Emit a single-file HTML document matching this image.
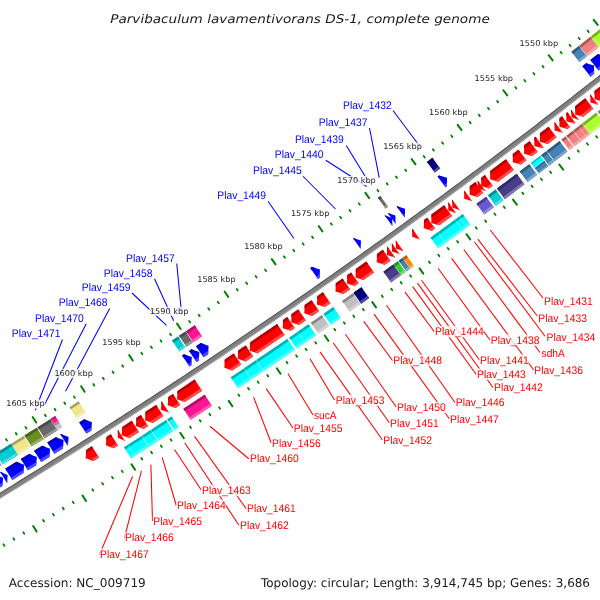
<!DOCTYPE html>
<html><head><meta charset="utf-8"><title>Parvibaculum lavamentivorans DS-1</title>
<style>html,body{margin:0;padding:0;background:#fff}svg{display:block;text-rendering:geometricPrecision}</style></head>
<body>
<svg width="600" height="600" viewBox="0 0 600 600">
<rect width="600" height="600" fill="#fff"/>
<g stroke="#008000" stroke-linecap="round"><line x1="714.12" y1="42.1" x2="715.24" y2="43.51" stroke-width="1.8"/><line x1="660.19" y1="-25.53" x2="659.07" y2="-26.94" stroke-width="1.8"/><line x1="705.12" y1="49.44" x2="706.24" y2="50.85" stroke-width="1.8"/><line x1="651.3" y1="-18.28" x2="650.18" y2="-19.69" stroke-width="1.8"/><line x1="696.11" y1="56.76" x2="700.11" y2="61.81" stroke-width="2.0"/><line x1="642.4" y1="-11.05" x2="638.4" y2="-16.11" stroke-width="2.0"/><line x1="687.08" y1="64.06" x2="688.2" y2="65.47" stroke-width="1.8"/><line x1="633.48" y1="-3.84" x2="632.37" y2="-5.25" stroke-width="1.8"/><line x1="678.04" y1="71.34" x2="679.16" y2="72.75" stroke-width="1.8"/><line x1="624.55" y1="3.36" x2="623.44" y2="1.95" stroke-width="1.8"/><line x1="668.99" y1="78.61" x2="670.1" y2="80.02" stroke-width="1.8"/><line x1="615.61" y1="10.54" x2="614.5" y2="9.13" stroke-width="1.8"/><line x1="659.92" y1="85.86" x2="661.03" y2="87.28" stroke-width="1.8"/><line x1="606.65" y1="17.71" x2="605.54" y2="16.29" stroke-width="1.8"/><line x1="650.84" y1="93.09" x2="654.81" y2="98.18" stroke-width="2.0"/><line x1="597.68" y1="24.86" x2="593.72" y2="19.77" stroke-width="2.0"/><line x1="641.75" y1="100.31" x2="642.85" y2="101.73" stroke-width="1.8"/><line x1="588.7" y1="31.99" x2="587.59" y2="30.57" stroke-width="1.8"/><line x1="632.64" y1="107.51" x2="633.74" y2="108.93" stroke-width="1.8"/><line x1="579.7" y1="39.1" x2="578.6" y2="37.68" stroke-width="1.8"/><line x1="623.52" y1="114.69" x2="624.62" y2="116.12" stroke-width="1.8"/><line x1="570.69" y1="46.2" x2="569.59" y2="44.78" stroke-width="1.8"/><line x1="614.39" y1="121.86" x2="615.48" y2="123.28" stroke-width="1.8"/><line x1="561.67" y1="53.28" x2="560.57" y2="51.86" stroke-width="1.8"/><line x1="605.24" y1="129.01" x2="609.16" y2="134.13" stroke-width="2.0"/><line x1="552.63" y1="60.35" x2="548.7" y2="55.23" stroke-width="2.0"/><line x1="596.08" y1="136.14" x2="597.17" y2="137.57" stroke-width="1.8"/><line x1="543.58" y1="67.4" x2="542.48" y2="65.97" stroke-width="1.8"/><line x1="586.9" y1="143.26" x2="588" y2="144.69" stroke-width="1.8"/><line x1="534.51" y1="74.43" x2="533.42" y2="72.99" stroke-width="1.8"/><line x1="577.72" y1="150.35" x2="578.81" y2="151.79" stroke-width="1.8"/><line x1="525.44" y1="81.44" x2="524.35" y2="80.01" stroke-width="1.8"/><line x1="568.52" y1="157.44" x2="569.6" y2="158.87" stroke-width="1.8"/><line x1="516.35" y1="88.44" x2="515.26" y2="87" stroke-width="1.8"/><line x1="559.3" y1="164.5" x2="563.18" y2="169.65" stroke-width="2.0"/><line x1="507.24" y1="95.42" x2="503.36" y2="90.27" stroke-width="2.0"/><line x1="550.08" y1="171.55" x2="551.16" y2="172.99" stroke-width="1.8"/><line x1="498.13" y1="102.39" x2="497.05" y2="100.95" stroke-width="1.8"/><line x1="540.83" y1="178.58" x2="541.91" y2="180.02" stroke-width="1.8"/><line x1="489" y1="109.33" x2="487.92" y2="107.89" stroke-width="1.8"/><line x1="531.58" y1="185.59" x2="532.66" y2="187.04" stroke-width="1.8"/><line x1="479.85" y1="116.26" x2="478.78" y2="114.82" stroke-width="1.8"/><line x1="522.31" y1="192.59" x2="523.39" y2="194.03" stroke-width="1.8"/><line x1="470.7" y1="123.18" x2="469.63" y2="121.73" stroke-width="1.8"/><line x1="513.03" y1="199.57" x2="516.88" y2="204.75" stroke-width="2.0"/><line x1="461.53" y1="130.07" x2="457.69" y2="124.89" stroke-width="2.0"/><line x1="503.74" y1="206.53" x2="504.81" y2="207.98" stroke-width="1.8"/><line x1="452.35" y1="136.95" x2="451.28" y2="135.5" stroke-width="1.8"/><line x1="494.44" y1="213.47" x2="495.5" y2="214.92" stroke-width="1.8"/><line x1="443.16" y1="143.81" x2="442.09" y2="142.36" stroke-width="1.8"/><line x1="485.12" y1="220.4" x2="486.18" y2="221.85" stroke-width="1.8"/><line x1="433.95" y1="150.66" x2="432.88" y2="149.21" stroke-width="1.8"/><line x1="475.79" y1="227.31" x2="476.85" y2="228.77" stroke-width="1.8"/><line x1="424.73" y1="157.49" x2="423.67" y2="156.03" stroke-width="1.8"/><line x1="466.44" y1="234.21" x2="470.24" y2="239.42" stroke-width="2.0"/><line x1="415.5" y1="164.3" x2="411.7" y2="159.09" stroke-width="2.0"/><line x1="457.08" y1="241.08" x2="458.14" y2="242.54" stroke-width="1.8"/><line x1="406.25" y1="171.09" x2="405.19" y2="169.64" stroke-width="1.8"/><line x1="447.71" y1="247.94" x2="448.77" y2="249.4" stroke-width="1.8"/><line x1="396.99" y1="177.87" x2="395.94" y2="176.41" stroke-width="1.8"/><line x1="438.33" y1="254.78" x2="439.38" y2="256.24" stroke-width="1.8"/><line x1="387.72" y1="184.63" x2="386.67" y2="183.17" stroke-width="1.8"/><line x1="428.94" y1="261.6" x2="429.99" y2="263.07" stroke-width="1.8"/><line x1="378.44" y1="191.37" x2="377.39" y2="189.91" stroke-width="1.8"/><line x1="419.53" y1="268.41" x2="423.28" y2="273.65" stroke-width="2.0"/><line x1="369.15" y1="198.1" x2="365.39" y2="192.85" stroke-width="2.0"/><line x1="410.11" y1="275.2" x2="411.15" y2="276.66" stroke-width="1.8"/><line x1="359.84" y1="204.8" x2="358.79" y2="203.34" stroke-width="1.8"/><line x1="400.67" y1="281.97" x2="401.72" y2="283.44" stroke-width="1.8"/><line x1="350.52" y1="211.5" x2="349.47" y2="210.03" stroke-width="1.8"/><line x1="391.23" y1="288.72" x2="392.27" y2="290.19" stroke-width="1.8"/><line x1="341.18" y1="218.17" x2="340.14" y2="216.7" stroke-width="1.8"/><line x1="381.77" y1="295.46" x2="382.81" y2="296.93" stroke-width="1.8"/><line x1="331.84" y1="224.82" x2="330.8" y2="223.35" stroke-width="1.8"/><line x1="372.3" y1="302.18" x2="376.01" y2="307.45" stroke-width="2.0"/><line x1="322.48" y1="231.46" x2="318.77" y2="226.19" stroke-width="2.0"/><line x1="362.81" y1="308.88" x2="363.85" y2="310.35" stroke-width="1.8"/><line x1="313.11" y1="238.08" x2="312.08" y2="236.61" stroke-width="1.8"/><line x1="353.32" y1="315.56" x2="354.35" y2="317.04" stroke-width="1.8"/><line x1="303.73" y1="244.69" x2="302.7" y2="243.21" stroke-width="1.8"/><line x1="343.81" y1="322.23" x2="344.84" y2="323.7" stroke-width="1.8"/><line x1="294.33" y1="251.27" x2="293.3" y2="249.8" stroke-width="1.8"/><line x1="334.29" y1="328.88" x2="335.31" y2="330.35" stroke-width="1.8"/><line x1="284.93" y1="257.84" x2="283.9" y2="256.36" stroke-width="1.8"/><line x1="324.75" y1="335.51" x2="328.43" y2="340.81" stroke-width="2.0"/><line x1="275.51" y1="264.39" x2="271.83" y2="259.09" stroke-width="2.0"/><line x1="315.21" y1="342.12" x2="316.23" y2="343.6" stroke-width="1.8"/><line x1="266.07" y1="270.93" x2="265.05" y2="269.45" stroke-width="1.8"/><line x1="305.65" y1="348.71" x2="306.67" y2="350.2" stroke-width="1.8"/><line x1="256.63" y1="277.44" x2="255.61" y2="275.96" stroke-width="1.8"/><line x1="296.08" y1="355.29" x2="297.1" y2="356.78" stroke-width="1.8"/><line x1="247.18" y1="283.94" x2="246.16" y2="282.46" stroke-width="1.8"/><line x1="286.5" y1="361.85" x2="287.51" y2="363.34" stroke-width="1.8"/><line x1="237.71" y1="290.42" x2="236.69" y2="288.94" stroke-width="1.8"/><line x1="276.9" y1="368.39" x2="280.53" y2="373.72" stroke-width="2.0"/><line x1="228.23" y1="296.89" x2="224.6" y2="291.56" stroke-width="2.0"/><line x1="267.3" y1="374.92" x2="268.31" y2="376.41" stroke-width="1.8"/><line x1="218.74" y1="303.33" x2="217.73" y2="301.84" stroke-width="1.8"/><line x1="257.68" y1="381.42" x2="258.68" y2="382.91" stroke-width="1.8"/><line x1="209.23" y1="309.76" x2="208.22" y2="308.27" stroke-width="1.8"/><line x1="248.05" y1="387.91" x2="249.05" y2="389.4" stroke-width="1.8"/><line x1="199.72" y1="316.17" x2="198.71" y2="314.68" stroke-width="1.8"/><line x1="238.4" y1="394.38" x2="239.41" y2="395.88" stroke-width="1.8"/><line x1="190.19" y1="322.56" x2="189.18" y2="321.07" stroke-width="1.8"/><line x1="228.75" y1="400.83" x2="232.33" y2="406.19" stroke-width="2.0"/><line x1="180.65" y1="328.94" x2="177.06" y2="323.58" stroke-width="2.0"/><line x1="219.08" y1="407.27" x2="220.08" y2="408.77" stroke-width="1.8"/><line x1="171.1" y1="335.3" x2="170.1" y2="333.8" stroke-width="1.8"/><line x1="209.4" y1="413.68" x2="210.4" y2="415.18" stroke-width="1.8"/><line x1="161.53" y1="341.64" x2="160.54" y2="340.14" stroke-width="1.8"/><line x1="199.71" y1="420.08" x2="200.71" y2="421.58" stroke-width="1.8"/><line x1="151.96" y1="347.96" x2="150.97" y2="346.46" stroke-width="1.8"/><line x1="190.01" y1="426.46" x2="191" y2="427.97" stroke-width="1.8"/><line x1="142.37" y1="354.26" x2="141.38" y2="352.76" stroke-width="1.8"/><line x1="180.29" y1="432.82" x2="183.84" y2="438.21" stroke-width="2.0"/><line x1="132.77" y1="360.55" x2="129.23" y2="355.16" stroke-width="2.0"/><line x1="170.57" y1="439.17" x2="171.56" y2="440.67" stroke-width="1.8"/><line x1="123.16" y1="366.82" x2="122.18" y2="365.31" stroke-width="1.8"/><line x1="160.83" y1="445.5" x2="161.81" y2="447" stroke-width="1.8"/><line x1="113.54" y1="373.07" x2="112.56" y2="371.56" stroke-width="1.8"/><line x1="151.08" y1="451.8" x2="152.06" y2="453.31" stroke-width="1.8"/><line x1="103.91" y1="379.3" x2="102.93" y2="377.79" stroke-width="1.8"/><line x1="141.32" y1="458.09" x2="142.3" y2="459.6" stroke-width="1.8"/><line x1="94.26" y1="385.51" x2="93.29" y2="384" stroke-width="1.8"/><line x1="131.55" y1="464.36" x2="135.05" y2="469.78" stroke-width="2.0"/><line x1="84.61" y1="391.71" x2="81.11" y2="386.29" stroke-width="2.0"/><line x1="121.76" y1="470.62" x2="122.74" y2="472.13" stroke-width="1.8"/><line x1="74.94" y1="397.89" x2="73.97" y2="396.37" stroke-width="1.8"/><line x1="111.97" y1="476.85" x2="112.94" y2="478.37" stroke-width="1.8"/><line x1="65.26" y1="404.05" x2="64.29" y2="402.53" stroke-width="1.8"/><line x1="102.16" y1="483.07" x2="103.13" y2="484.59" stroke-width="1.8"/><line x1="55.57" y1="410.19" x2="54.6" y2="408.67" stroke-width="1.8"/><line x1="92.34" y1="489.27" x2="93.31" y2="490.79" stroke-width="1.8"/><line x1="45.87" y1="416.31" x2="44.9" y2="414.79" stroke-width="1.8"/><line x1="82.51" y1="495.45" x2="85.97" y2="500.9" stroke-width="2.0"/><line x1="36.16" y1="422.42" x2="32.7" y2="416.97" stroke-width="2.0"/><line x1="72.67" y1="501.61" x2="73.63" y2="503.13" stroke-width="1.8"/><line x1="26.43" y1="428.51" x2="25.47" y2="426.99" stroke-width="1.8"/><line x1="62.82" y1="507.76" x2="63.78" y2="509.28" stroke-width="1.8"/><line x1="16.7" y1="434.58" x2="15.74" y2="433.05" stroke-width="1.8"/><line x1="52.95" y1="513.88" x2="53.91" y2="515.41" stroke-width="1.8"/><line x1="6.95" y1="440.63" x2="5.99" y2="439.1" stroke-width="1.8"/><line x1="43.08" y1="519.99" x2="44.03" y2="521.51" stroke-width="1.8"/><line x1="-2.81" y1="446.66" x2="-3.76" y2="445.14" stroke-width="1.8"/><line x1="33.19" y1="526.08" x2="36.6" y2="531.55" stroke-width="2.0"/><line x1="-12.58" y1="452.68" x2="-15.99" y2="447.2" stroke-width="2.0"/><line x1="23.29" y1="532.15" x2="24.24" y2="533.68" stroke-width="1.8"/><line x1="-22.36" y1="458.67" x2="-23.31" y2="457.14" stroke-width="1.8"/><line x1="13.38" y1="538.2" x2="14.33" y2="539.73" stroke-width="1.8"/><line x1="-32.15" y1="464.65" x2="-33.1" y2="463.12" stroke-width="1.8"/><line x1="3.46" y1="544.23" x2="4.41" y2="545.76" stroke-width="1.8"/><line x1="-41.95" y1="470.61" x2="-42.9" y2="469.08" stroke-width="1.8"/><line x1="-6.47" y1="550.25" x2="-5.53" y2="551.78" stroke-width="1.8"/><line x1="-51.76" y1="476.55" x2="-52.71" y2="475.02" stroke-width="1.8"/><line x1="-16.41" y1="556.24" x2="-13.04" y2="561.74" stroke-width="2.0"/><line x1="-61.59" y1="482.48" x2="-64.96" y2="476.98" stroke-width="2.0"/><line x1="-26.36" y1="562.22" x2="-25.43" y2="563.76" stroke-width="1.8"/><line x1="-71.42" y1="488.38" x2="-72.36" y2="486.85" stroke-width="1.8"/><line x1="-36.33" y1="568.18" x2="-35.39" y2="569.72" stroke-width="1.8"/><line x1="-81.27" y1="494.27" x2="-82.2" y2="492.73" stroke-width="1.8"/></g>
<g><polygon points="703.38,-8.37 698.92,-4.71 694.46,-1.05 690,2.6 685.54,6.25 681.07,9.9 676.59,13.54 672.12,17.18 667.64,20.81 663.16,24.44 658.67,28.07 654.18,31.69 649.69,35.31 645.2,38.92 640.7,42.53 636.19,46.13 631.69,49.73 627.18,53.33 622.66,56.92 618.15,60.51 613.63,64.09 609.11,67.67 604.58,71.25 600.05,74.82 595.52,78.39 590.98,81.95 586.44,85.51 581.9,89.06 577.35,92.61 572.8,96.16 568.25,99.7 563.69,103.24 559.13,106.77 554.57,110.3 550.01,113.83 545.44,117.35 540.86,120.86 536.29,124.38 531.71,127.88 527.13,131.39 522.54,134.89 517.95,138.38 513.36,141.87 508.76,145.36 504.16,148.84 499.56,152.32 494.96,155.8 490.35,159.27 485.73,162.73 481.12,166.19 476.5,169.65 471.88,173.1 467.25,176.55 462.63,179.99 458,183.43 453.36,186.87 448.72,190.3 444.08,193.73 439.44,197.15 434.79,200.57 430.14,203.98 425.49,207.39 420.83,210.8 416.17,214.2 411.51,217.6 406.84,220.99 402.17,224.38 397.5,227.76 392.82,231.14 388.14,234.51 383.46,237.89 378.78,241.25 374.09,244.61 369.4,247.97 364.7,251.33 360,254.67 355.3,258.02 350.6,261.36 345.89,264.69 341.18,268.03 336.47,271.35 331.75,274.68 327.03,277.99 322.31,281.31 317.58,284.62 312.85,287.92 308.12,291.22 303.39,294.52 298.65,297.81 293.91,301.1 289.16,304.38 284.42,307.66 279.67,310.94 274.91,314.21 270.16,317.47 265.4,320.73 260.64,323.99 255.87,327.24 251.1,330.49 246.33,333.73 241.56,336.97 236.78,340.21 232,343.44 227.21,346.66 222.43,349.89 217.64,353.1 212.85,356.31 208.05,359.52 203.25,362.73 198.45,365.92 193.65,369.12 188.84,372.31 184.03,375.49 179.22,378.68 174.4,381.85 169.58,385.02 164.76,388.19 159.93,391.36 155.11,394.51 150.28,397.67 145.44,400.82 140.6,403.96 135.77,407.1 130.92,410.24 126.08,413.37 121.23,416.5 116.38,419.62 111.52,422.74 106.67,425.85 101.81,428.96 96.94,432.07 92.08,435.17 87.21,438.26 82.34,441.35 77.47,444.44 72.59,447.52 67.71,450.6 62.83,453.67 57.94,456.74 53.05,459.8 48.16,462.86 43.27,465.92 38.37,468.97 33.47,472.01 28.57,475.05 23.66,478.09 18.76,481.12 13.84,484.15 8.93,487.17 4.01,490.19 -0.9,493.2 -5.83,496.21 -10.75,499.21 -15.68,502.21 -20.61,505.21 -25.54,508.2 -30.48,511.19 -35.42,514.17 -40.36,517.14 -45.3,520.12 -50.25,523.08 -55.2,526.05 -60.15,529 -65.1,531.96 -70.06,534.91 -75.02,537.85 -79.99,540.79 -84.95,543.73 -89.92,546.66 -87.24,551.11 -82.27,548.18 -77.3,545.24 -72.33,542.3 -67.37,539.35 -62.41,536.4 -57.45,533.45 -52.49,530.49 -47.54,527.52 -42.59,524.55 -37.64,521.58 -32.7,518.6 -27.75,515.62 -22.82,512.63 -17.88,509.64 -12.95,506.64 -8.01,503.64 -3.09,500.63 1.84,497.62 6.76,494.6 11.68,491.58 16.6,488.56 21.51,485.53 26.43,482.49 31.33,479.46 36.24,476.41 41.14,473.37 46.04,470.31 50.94,467.26 55.84,464.2 60.73,461.13 65.62,458.06 70.5,454.98 75.39,451.9 80.27,448.82 85.14,445.73 90.02,442.64 94.89,439.54 99.76,436.44 104.63,433.33 109.49,430.22 114.35,427.1 119.21,423.98 124.06,420.86 128.91,417.73 133.76,414.6 138.61,411.46 143.45,408.31 148.29,405.17 153.13,402.02 157.96,398.86 162.79,395.7 167.62,392.53 172.45,389.36 177.27,386.19 182.09,383.01 186.91,379.83 191.72,376.64 196.53,373.45 201.34,370.25 206.14,367.05 210.95,363.84 215.74,360.63 220.54,357.42 225.33,354.2 230.12,350.97 234.91,347.75 239.69,344.51 244.47,341.28 249.25,338.04 254.03,334.79 258.8,331.54 263.57,328.28 268.33,325.03 273.1,321.76 277.86,318.49 282.61,315.22 287.37,311.94 292.12,308.66 296.87,305.38 301.61,302.09 306.35,298.79 311.09,295.49 315.82,292.19 320.56,288.88 325.29,285.57 330.01,282.26 334.74,278.93 339.46,275.61 344.17,272.28 348.89,268.95 353.6,265.61 358.3,262.27 363.01,258.92 367.71,255.57 372.41,252.21 377.1,248.85 381.79,245.49 386.48,242.12 391.17,238.74 395.85,235.37 400.53,231.98 405.21,228.6 409.88,225.21 414.55,221.81 419.22,218.41 423.88,215.01 428.54,211.6 433.2,208.19 437.85,204.77 442.5,201.35 447.15,197.93 451.79,194.5 456.43,191.07 461.07,187.63 465.71,184.18 470.34,180.74 474.97,177.29 479.59,173.83 484.21,170.37 488.83,166.91 493.45,163.44 498.06,159.97 502.67,156.49 507.27,153.01 511.87,149.53 516.47,146.04 521.07,142.54 525.66,139.05 530.25,135.54 534.84,132.04 539.42,128.53 544,125.01 548.58,121.49 553.15,117.97 557.72,114.44 562.28,110.91 566.85,107.37 571.41,103.83 575.96,100.29 580.52,96.74 585.06,93.19 589.61,89.63 594.15,86.07 598.69,82.5 603.23,78.94 607.76,75.36 612.29,71.78 616.82,68.2 621.34,64.61 625.86,61.02 630.38,57.43 634.89,53.83 639.4,50.23 643.9,46.62 648.41,43.01 652.91,39.39 657.4,35.77 661.89,32.15 666.38,28.52 670.87,24.89 675.35,21.25 679.83,17.61 684.31,13.97 688.78,10.32 693.25,6.67 697.71,3.01 702.17,-0.65 706.63,-4.32" fill="#808080"/><polygon points="703.38,-8.37 698.92,-4.71 694.46,-1.05 690,2.6 685.54,6.25 681.07,9.9 676.59,13.54 672.12,17.18 667.64,20.81 663.16,24.44 658.67,28.07 654.18,31.69 649.69,35.31 645.2,38.92 640.7,42.53 636.19,46.13 631.69,49.73 627.18,53.33 622.66,56.92 618.15,60.51 613.63,64.09 609.11,67.67 604.58,71.25 600.05,74.82 595.52,78.39 590.98,81.95 586.44,85.51 581.9,89.06 577.35,92.61 572.8,96.16 568.25,99.7 563.69,103.24 559.13,106.77 554.57,110.3 550.01,113.83 545.44,117.35 540.86,120.86 536.29,124.38 531.71,127.88 527.13,131.39 522.54,134.89 517.95,138.38 513.36,141.87 508.76,145.36 504.16,148.84 499.56,152.32 494.96,155.8 490.35,159.27 485.73,162.73 481.12,166.19 476.5,169.65 471.88,173.1 467.25,176.55 462.63,179.99 458,183.43 453.36,186.87 448.72,190.3 444.08,193.73 439.44,197.15 434.79,200.57 430.14,203.98 425.49,207.39 420.83,210.8 416.17,214.2 411.51,217.6 406.84,220.99 402.17,224.38 397.5,227.76 392.82,231.14 388.14,234.51 383.46,237.89 378.78,241.25 374.09,244.61 369.4,247.97 364.7,251.33 360,254.67 355.3,258.02 350.6,261.36 345.89,264.69 341.18,268.03 336.47,271.35 331.75,274.68 327.03,277.99 322.31,281.31 317.58,284.62 312.85,287.92 308.12,291.22 303.39,294.52 298.65,297.81 293.91,301.1 289.16,304.38 284.42,307.66 279.67,310.94 274.91,314.21 270.16,317.47 265.4,320.73 260.64,323.99 255.87,327.24 251.1,330.49 246.33,333.73 241.56,336.97 236.78,340.21 232,343.44 227.21,346.66 222.43,349.89 217.64,353.1 212.85,356.31 208.05,359.52 203.25,362.73 198.45,365.92 193.65,369.12 188.84,372.31 184.03,375.49 179.22,378.68 174.4,381.85 169.58,385.02 164.76,388.19 159.93,391.36 155.11,394.51 150.28,397.67 145.44,400.82 140.6,403.96 135.77,407.1 130.92,410.24 126.08,413.37 121.23,416.5 116.38,419.62 111.52,422.74 106.67,425.85 101.81,428.96 96.94,432.07 92.08,435.17 87.21,438.26 82.34,441.35 77.47,444.44 72.59,447.52 67.71,450.6 62.83,453.67 57.94,456.74 53.05,459.8 48.16,462.86 43.27,465.92 38.37,468.97 33.47,472.01 28.57,475.05 23.66,478.09 18.76,481.12 13.84,484.15 8.93,487.17 4.01,490.19 -0.9,493.2 -5.83,496.21 -10.75,499.21 -15.68,502.21 -20.61,505.21 -25.54,508.2 -30.48,511.19 -35.42,514.17 -40.36,517.14 -45.3,520.12 -50.25,523.08 -55.2,526.05 -60.15,529 -65.1,531.96 -70.06,534.91 -75.02,537.85 -79.99,540.79 -84.95,543.73 -89.92,546.66 -89.38,547.55 -84.41,544.62 -79.45,541.68 -74.48,538.74 -69.52,535.8 -64.56,532.85 -59.61,529.89 -54.66,526.93 -49.71,523.97 -44.76,521 -39.81,518.03 -34.87,515.05 -29.93,512.07 -25,509.09 -20.06,506.09 -15.13,503.1 -10.2,500.1 -5.28,497.09 -0.36,494.09 4.56,491.07 9.48,488.05 14.4,485.03 19.31,482 24.22,478.97 29.12,475.93 34.02,472.89 38.93,469.85 43.82,466.8 48.72,463.74 53.61,460.68 58.5,457.62 63.38,454.55 68.27,451.48 73.15,448.4 78.03,445.32 82.9,442.23 87.77,439.14 92.64,436.04 97.51,432.94 102.37,429.84 107.23,426.73 112.09,423.61 116.94,420.49 121.8,417.37 126.64,414.24 131.49,411.11 136.33,407.97 141.17,404.83 146.01,401.69 150.85,398.54 155.68,395.38 160.51,392.22 165.33,389.06 170.15,385.89 174.97,382.72 179.79,379.54 184.6,376.36 189.42,373.17 194.22,369.98 199.03,366.79 203.83,363.59 208.63,360.39 213.43,357.18 218.22,353.96 223.01,350.75 227.8,347.53 232.58,344.3 237.36,341.07 242.14,337.83 246.91,334.59 251.69,331.35 256.46,328.1 261.22,324.85 265.99,321.59 270.75,318.33 275.5,315.06 280.26,311.79 285.01,308.52 289.75,305.24 294.5,301.96 299.24,298.67 303.98,295.38 308.72,292.08 313.45,288.78 318.18,285.47 322.9,282.16 327.63,278.85 332.35,275.53 337.06,272.2 341.78,268.88 346.49,265.55 351.2,262.21 355.9,258.87 360.6,255.52 365.3,252.17 370,248.82 374.69,245.46 379.38,242.1 384.07,238.73 388.75,235.36 393.43,231.99 398.1,228.61 402.78,225.22 407.45,221.83 412.11,218.44 416.78,215.04 421.44,211.64 426.1,208.23 430.75,204.82 435.4,201.41 440.05,197.99 444.7,194.57 449.34,191.14 453.98,187.71 458.61,184.27 463.24,180.83 467.87,177.39 472.5,173.94 477.12,170.49 481.74,167.03 486.35,163.57 490.97,160.1 495.58,156.63 500.18,153.16 504.79,149.68 509.38,146.19 513.98,142.71 518.57,139.22 523.16,135.72 527.75,132.22 532.33,128.71 536.91,125.21 541.49,121.69 546.06,118.18 550.63,114.66 555.2,111.13 559.76,107.6 564.32,104.07 568.88,100.53 573.43,96.99 577.99,93.44 582.53,89.89 587.08,86.33 591.62,82.77 596.15,79.21 600.69,75.64 605.22,72.07 609.74,68.5 614.27,64.92 618.79,61.33 623.3,57.74 627.82,54.15 632.33,50.55 636.83,46.95 641.34,43.35 645.84,39.74 650.33,36.12 654.83,32.51 659.32,28.88 663.8,25.26 668.29,21.63 672.77,17.99 677.24,14.36 681.71,10.71 686.18,7.07 690.65,3.42 695.11,-0.24 699.57,-3.9 704.03,-7.56" fill="#5a5a5a"/><polygon points="705.98,-5.13 701.52,-1.46 697.06,2.2 692.6,5.85 688.13,9.51 683.66,13.15 679.18,16.8 674.71,20.44 670.22,24.07 665.74,27.71 661.25,31.33 656.76,34.96 652.26,38.58 647.76,42.19 643.26,45.8 638.76,49.41 634.25,53.01 629.74,56.61 625.22,60.2 620.7,63.79 616.18,67.38 611.66,70.96 607.13,74.54 602.59,78.11 598.06,81.68 593.52,85.25 588.98,88.81 584.43,92.36 579.88,95.92 575.33,99.46 570.78,103.01 566.22,106.55 561.65,110.08 557.09,113.61 552.52,117.14 547.95,120.66 543.37,124.18 538.79,127.7 534.21,131.21 529.63,134.71 525.04,138.21 520.45,141.71 515.85,145.2 511.25,148.69 506.65,152.18 502.05,155.66 497.44,159.13 492.83,162.61 488.21,166.07 483.59,169.54 478.97,173 474.35,176.45 469.72,179.9 465.09,183.35 460.46,186.79 455.82,190.23 451.18,193.66 446.54,197.09 441.89,200.51 437.24,203.93 432.58,207.35 427.93,210.76 423.27,214.17 418.61,217.57 413.94,220.97 409.27,224.36 404.6,227.75 399.92,231.14 395.25,234.52 390.56,237.9 385.88,241.27 381.19,244.64 376.5,248 371.8,251.36 367.11,254.72 362.41,258.07 357.7,261.42 353,264.76 348.29,268.1 343.57,271.43 338.86,274.76 334.14,278.08 329.42,281.4 324.69,284.72 319.96,288.03 315.23,291.34 310.5,294.64 305.76,297.94 301.02,301.23 296.27,304.52 291.53,307.81 286.78,311.09 282.02,314.36 277.27,317.64 272.51,320.9 267.75,324.17 262.98,327.43 258.21,330.68 253.44,333.93 248.67,337.18 243.89,340.42 239.11,343.65 234.33,346.88 229.54,350.11 224.75,353.34 219.96,356.55 215.16,359.77 210.37,362.98 205.57,366.18 200.76,369.38 195.95,372.58 191.14,375.77 186.33,378.96 181.52,382.14 176.7,385.32 171.87,388.49 167.05,391.66 162.22,394.83 157.39,397.99 152.56,401.15 147.72,404.3 142.88,407.44 138.04,410.59 133.19,413.72 128.35,416.86 123.5,419.99 118.64,423.11 113.78,426.23 108.92,429.35 104.06,432.46 99.2,435.56 94.33,438.67 89.46,441.76 84.58,444.86 79.71,447.94 74.83,451.03 69.94,454.11 65.06,457.18 60.17,460.25 55.28,463.32 50.38,466.38 45.49,469.43 40.59,472.49 35.69,475.53 30.78,478.58 25.87,481.61 20.96,484.65 16.05,487.68 11.13,490.7 6.21,493.72 1.29,496.74 -3.63,499.75 -8.56,502.75 -13.49,505.75 -18.42,508.75 -23.36,511.74 -28.3,514.73 -33.24,517.71 -38.18,520.69 -43.13,523.66 -48.08,526.63 -53.03,529.6 -57.99,532.56 -62.95,535.51 -67.91,538.46 -72.87,541.41 -77.84,544.35 -82.8,547.29 -87.78,550.22 -87.24,551.11 -82.27,548.18 -77.3,545.24 -72.33,542.3 -67.37,539.35 -62.41,536.4 -57.45,533.45 -52.49,530.49 -47.54,527.52 -42.59,524.55 -37.64,521.58 -32.7,518.6 -27.75,515.62 -22.82,512.63 -17.88,509.64 -12.95,506.64 -8.01,503.64 -3.09,500.63 1.84,497.62 6.76,494.6 11.68,491.58 16.6,488.56 21.51,485.53 26.43,482.49 31.33,479.46 36.24,476.41 41.14,473.37 46.04,470.31 50.94,467.26 55.84,464.2 60.73,461.13 65.62,458.06 70.5,454.98 75.39,451.9 80.27,448.82 85.14,445.73 90.02,442.64 94.89,439.54 99.76,436.44 104.63,433.33 109.49,430.22 114.35,427.1 119.21,423.98 124.06,420.86 128.91,417.73 133.76,414.6 138.61,411.46 143.45,408.31 148.29,405.17 153.13,402.02 157.96,398.86 162.79,395.7 167.62,392.53 172.45,389.36 177.27,386.19 182.09,383.01 186.91,379.83 191.72,376.64 196.53,373.45 201.34,370.25 206.14,367.05 210.95,363.84 215.74,360.63 220.54,357.42 225.33,354.2 230.12,350.97 234.91,347.75 239.69,344.51 244.47,341.28 249.25,338.04 254.03,334.79 258.8,331.54 263.57,328.28 268.33,325.03 273.1,321.76 277.86,318.49 282.61,315.22 287.37,311.94 292.12,308.66 296.87,305.38 301.61,302.09 306.35,298.79 311.09,295.49 315.82,292.19 320.56,288.88 325.29,285.57 330.01,282.26 334.74,278.93 339.46,275.61 344.17,272.28 348.89,268.95 353.6,265.61 358.3,262.27 363.01,258.92 367.71,255.57 372.41,252.21 377.1,248.85 381.79,245.49 386.48,242.12 391.17,238.74 395.85,235.37 400.53,231.98 405.21,228.6 409.88,225.21 414.55,221.81 419.22,218.41 423.88,215.01 428.54,211.6 433.2,208.19 437.85,204.77 442.5,201.35 447.15,197.93 451.79,194.5 456.43,191.07 461.07,187.63 465.71,184.18 470.34,180.74 474.97,177.29 479.59,173.83 484.21,170.37 488.83,166.91 493.45,163.44 498.06,159.97 502.67,156.49 507.27,153.01 511.87,149.53 516.47,146.04 521.07,142.54 525.66,139.05 530.25,135.54 534.84,132.04 539.42,128.53 544,125.01 548.58,121.49 553.15,117.97 557.72,114.44 562.28,110.91 566.85,107.37 571.41,103.83 575.96,100.29 580.52,96.74 585.06,93.19 589.61,89.63 594.15,86.07 598.69,82.5 603.23,78.94 607.76,75.36 612.29,71.78 616.82,68.2 621.34,64.61 625.86,61.02 630.38,57.43 634.89,53.83 639.4,50.23 643.9,46.62 648.41,43.01 652.91,39.39 657.4,35.77 661.89,32.15 666.38,28.52 670.87,24.89 675.35,21.25 679.83,17.61 684.31,13.97 688.78,10.32 693.25,6.67 697.71,3.01 702.17,-0.65 706.63,-4.32" fill="#a6a6a6"/></g>
<g><polygon points="604.83,82.89 594.52,90.99 594.62,99.37 602.63,101.53 612.96,93.42" fill="#ff0000"/><polygon points="604.83,82.89 594.52,90.99 594.56,94.34 606.46,85" fill="#b20000"/><polygon points="612.96,93.42 602.63,101.53 599.42,100.67 611.33,91.31" fill="#ff4c4c"/><polygon points="590.29,94.31 590.29,94.31 590.52,102.57 598.39,104.85 598.39,104.85" fill="#ff0000"/><polygon points="590.29,94.31 590.29,94.31 590.38,97.61 591.91,96.42" fill="#b20000"/><polygon points="598.39,104.85 598.39,104.85 595.24,103.94 596.77,102.74" fill="#ff4c4c"/><polygon points="601.32,108.66 597.49,111.65 605.52,122.13 609.36,119.13" fill="#c0c0c0"/><polygon points="601.32,108.66 597.49,111.65 599.09,113.75 602.93,110.75" fill="#868686"/><polygon points="607.75,117.03 603.92,120.03 605.52,122.13 609.36,119.13" fill="#d3d3d3"/><polygon points="585.19,98.29 575.13,106.14 575.19,114.51 583.2,116.7 593.29,108.84" fill="#ff0000"/><polygon points="585.19,98.29 575.13,106.14 575.15,109.48 586.81,100.4" fill="#b20000"/><polygon points="593.29,108.84 583.2,116.7 580,115.83 591.67,106.73" fill="#ff4c4c"/><polygon points="596.21,112.65 591.52,116.31 586.83,119.96 582.14,123.61 590.14,134.1 594.85,130.45 599.55,126.79 604.24,123.13" fill="#adff2f"/><polygon points="596.21,112.65 591.52,116.31 586.83,119.96 582.14,123.61 583.74,125.71 588.43,122.06 593.13,118.41 597.82,114.75" fill="#79b221"/><polygon points="602.64,121.03 597.94,124.69 593.24,128.35 588.54,132 590.14,134.1 594.85,130.45 599.55,126.79 604.24,123.13" fill="#c6ff6d"/><polygon points="570.88,109.43 570.88,109.43 571.54,117.34 578.95,120.01 578.95,120.01" fill="#ff0000"/><polygon points="570.88,109.43 570.88,109.43 571.15,112.59 572.5,111.55" fill="#b20000"/><polygon points="578.95,120.01 578.95,120.01 575.99,118.94 577.34,117.89" fill="#ff4c4c"/><polygon points="581.86,123.82 578.48,126.45 586.48,136.95 589.87,134.32" fill="#f08080"/><polygon points="581.86,123.82 578.48,126.45 580.08,128.55 583.46,125.92" fill="#a85a5a"/><polygon points="588.27,132.22 584.88,134.85 586.48,136.95 589.87,134.32" fill="#f4a6a6"/><polygon points="567.32,112.19 566.37,112.93 566.42,121.3 574.42,123.52 575.38,122.77" fill="#ff0000"/><polygon points="567.32,112.19 566.37,112.93 566.39,116.28 568.94,114.31" fill="#b20000"/><polygon points="575.38,122.77 574.42,123.52 571.22,122.63 573.77,120.66" fill="#ff4c4c"/><polygon points="578.29,126.59 573.35,130.42 581.34,140.92 586.29,137.09" fill="#f08080"/><polygon points="578.29,126.59 573.35,130.42 574.95,132.52 579.89,128.69" fill="#a85a5a"/><polygon points="584.69,134.99 579.74,138.82 581.34,140.92 586.29,137.09" fill="#f4a6a6"/><polygon points="562.03,116.29 559.42,118.31 559.46,126.68 567.47,128.9 570.08,126.88" fill="#ff0000"/><polygon points="562.03,116.29 559.42,118.31 559.44,121.65 563.64,118.41" fill="#b20000"/><polygon points="570.08,126.88 567.47,128.9 564.26,128.01 568.47,124.76" fill="#ff4c4c"/><polygon points="572.98,130.7 566.38,135.8 574.36,146.31 580.97,141.21" fill="#f08080"/><polygon points="572.98,130.7 566.38,135.8 567.98,137.9 574.58,132.8" fill="#a85a5a"/><polygon points="579.37,139.11 572.76,144.21 574.36,146.31 580.97,141.21" fill="#f4a6a6"/><polygon points="554.62,122.01 554.57,122.05 554.61,130.41 562.61,132.64 562.66,132.61" fill="#ff0000"/><polygon points="554.62,122.01 554.57,122.05 554.59,125.39 556.23,124.13" fill="#b20000"/><polygon points="562.66,132.61 562.61,132.64 559.41,131.75 561.05,130.49" fill="#ff4c4c"/><polygon points="565.56,136.43 561.52,139.54 569.49,150.07 573.53,146.95" fill="#f08080"/><polygon points="565.56,136.43 561.52,139.54 563.11,141.65 567.15,138.54" fill="#a85a5a"/><polygon points="571.94,144.85 567.9,147.96 569.49,150.07 573.53,146.95" fill="#f4a6a6"/><polygon points="548.58,126.66 539.92,133.31 539.93,141.68 547.93,143.93 556.6,137.27" fill="#ff0000"/><polygon points="548.58,126.66 539.92,133.31 539.92,136.66 550.18,128.78" fill="#b20000"/><polygon points="556.6,137.27 547.93,143.93 544.73,143.03 555,135.15" fill="#ff4c4c"/><polygon points="559.5,141.1 553.16,145.96 546.82,150.82 554.76,161.37 561.12,156.5 567.47,151.62" fill="#4682b4"/><polygon points="559.5,141.1 553.16,145.96 546.82,150.82 548.41,152.93 554.75,148.07 561.09,143.2" fill="#315b7e"/><polygon points="565.87,149.52 559.53,154.39 553.17,159.26 554.76,161.37 561.12,156.5 567.47,151.62" fill="#7ea8ca"/><polygon points="535.47,136.72 534.32,137.59 534.32,145.96 542.32,148.22 543.47,147.34" fill="#ff0000"/><polygon points="535.47,136.72 534.32,137.59 534.32,140.94 537.07,138.84" fill="#b20000"/><polygon points="543.47,147.34 542.32,148.22 539.12,147.32 541.87,145.21" fill="#ff4c4c"/><polygon points="546.36,151.17 541.2,155.11 549.14,165.66 554.3,161.72" fill="#4682b4"/><polygon points="546.36,151.17 541.2,155.11 542.79,157.22 547.95,153.28" fill="#315b7e"/><polygon points="552.71,159.61 547.55,163.55 549.14,165.66 554.3,161.72" fill="#7ea8ca"/><polygon points="529.59,141.2 524.13,145.37 524.11,153.73 532.11,156.01 537.58,151.84" fill="#ff0000"/><polygon points="529.59,141.2 524.13,145.37 524.12,148.71 531.19,143.33" fill="#b20000"/><polygon points="537.58,151.84 532.11,156.01 528.91,155.1 535.99,149.71" fill="#ff4c4c"/><polygon points="540.47,155.67 535.72,159.29 530.98,162.9 534.93,168.18 539.68,164.57 544.43,160.95" fill="#00ffff"/><polygon points="540.47,155.67 535.72,159.29 530.98,162.9 531.77,163.95 536.52,160.34 541.26,156.73" fill="#00b2b2"/><polygon points="543.64,159.89 538.89,163.51 534.14,167.12 534.93,168.18 539.68,164.57 544.43,160.95" fill="#4cffff"/><polygon points="544.43,160.95 539.68,164.57 534.93,168.18 538.89,173.46 543.65,169.85 548.4,166.23" fill="#4682b4"/><polygon points="544.43,160.95 539.68,164.57 534.93,168.18 535.72,169.24 540.48,165.62 545.23,162" fill="#315b7e"/><polygon points="547.61,165.17 542.85,168.79 538.1,172.41 538.89,173.46 543.65,169.85 548.4,166.23" fill="#7ea8ca"/><polygon points="518.47,149.67 512.81,153.96 512.78,162.33 520.77,164.62 526.44,160.32" fill="#ff0000"/><polygon points="518.47,149.67 512.81,153.96 512.8,157.31 520.06,151.8" fill="#b20000"/><polygon points="526.44,160.32 520.77,164.62 517.57,163.7 524.85,158.19" fill="#ff4c4c"/><polygon points="529.32,164.16 524.47,167.83 519.62,171.5 527.52,182.08 532.37,178.41 537.23,174.73" fill="#4682b4"/><polygon points="529.32,164.16 524.47,167.83 519.62,171.5 521.2,173.62 526.05,169.95 530.9,166.27" fill="#315b7e"/><polygon points="535.64,172.61 530.79,176.29 525.94,179.97 527.52,182.08 532.37,178.41 537.23,174.73" fill="#7ea8ca"/><polygon points="505.85,159.22 490.21,171 490.14,179.36 498.13,181.69 513.8,169.89" fill="#ff0000"/><polygon points="505.85,159.22 490.21,171 490.18,174.34 507.44,161.36" fill="#b20000"/><polygon points="513.8,169.89 498.13,181.69 494.93,180.76 512.21,167.76" fill="#ff4c4c"/><polygon points="516.67,173.74 511.74,177.45 506.82,181.16 501.89,184.87 496.95,188.57 504.8,199.18 509.75,195.47 514.69,191.76 519.62,188.04 524.55,184.32" fill="#483d8b"/><polygon points="516.67,173.74 511.74,177.45 506.82,181.16 501.89,184.87 496.95,188.57 498.52,190.69 503.46,186.99 508.39,183.28 513.32,179.57 518.24,175.85" fill="#322b61"/><polygon points="522.98,182.21 518.05,185.93 513.11,189.64 508.17,193.35 503.23,197.06 504.8,199.18 509.75,195.47 514.69,191.76 519.62,188.04 524.55,184.32" fill="#7f77ae"/><polygon points="484.89,174.98 481.24,177.72 481.16,186.08 489.14,188.42 492.8,185.68" fill="#ff0000"/><polygon points="484.89,174.98 481.24,177.72 481.21,181.06 486.48,177.12" fill="#b20000"/><polygon points="492.8,185.68 489.14,188.42 485.95,187.48 491.22,183.54" fill="#ff4c4c"/><polygon points="495.66,189.54 487.96,195.29 495.79,205.92 503.5,200.15" fill="#00ced1"/><polygon points="495.66,189.54 487.96,195.29 489.52,197.42 497.22,191.66" fill="#009092"/><polygon points="501.93,198.03 494.22,203.79 495.79,205.92 503.5,200.15" fill="#4cdddf"/><polygon points="477.68,180.38 477.68,180.38 478.1,188.36 485.57,191.08 485.57,191.08" fill="#ff0000"/><polygon points="477.68,180.38 477.68,180.38 477.85,183.57 479.26,182.52" fill="#b20000"/><polygon points="485.57,191.08 485.57,191.08 482.58,189.99 483.99,188.94" fill="#ff4c4c"/><polygon points="475.36,182.11 469.76,186.28 469.66,194.64 477.64,197 483.25,192.81" fill="#ff0000"/><polygon points="475.36,182.11 469.76,186.28 469.72,189.63 476.94,184.25" fill="#b20000"/><polygon points="483.25,192.81 477.64,197 474.44,196.06 481.67,190.67" fill="#ff4c4c"/><polygon points="486.1,196.68 481.27,200.28 476.44,203.87 484.25,214.51 489.09,210.91 493.93,207.31" fill="#6a5acd"/><polygon points="486.1,196.68 481.27,200.28 476.44,203.87 478,206 482.83,202.4 487.66,198.8" fill="#4a3f90"/><polygon points="492.36,205.18 487.53,208.78 482.69,212.38 484.25,214.51 489.09,210.91 493.93,207.31" fill="#978cdc"/><polygon points="464.24,190.38 464.24,190.38 464.18,198.71 472.11,201.1 472.11,201.1" fill="#ff0000"/><polygon points="464.24,190.38 464.24,190.38 464.22,193.71 465.81,192.53" fill="#b20000"/><polygon points="472.11,201.1 472.11,201.1 468.94,200.15 470.53,198.96" fill="#ff4c4c"/><polygon points="452.08,199.39 452.08,199.39 452.37,207.43 459.92,210.13 459.92,210.13" fill="#ff0000"/><polygon points="452.08,199.39 452.08,199.39 452.19,202.61 453.64,201.54" fill="#b20000"/><polygon points="459.92,210.13 459.92,210.13 456.9,209.05 458.35,207.98" fill="#ff4c4c"/><polygon points="462.75,214 459.12,216.68 466.9,227.35 470.54,224.66" fill="#00ffff"/><polygon points="462.75,214 459.12,216.68 460.67,218.82 464.31,216.13" fill="#00b2b2"/><polygon points="468.98,222.53 465.34,225.21 466.9,227.35 470.54,224.66" fill="#4cffff"/><polygon points="448.26,202.2 448.26,202.2 448.27,210.45 456.1,212.94 456.1,212.94" fill="#ff0000"/><polygon points="448.26,202.2 448.26,202.2 448.27,205.5 449.83,204.35" fill="#b20000"/><polygon points="456.1,212.94 456.1,212.94 452.97,211.95 454.54,210.8" fill="#ff4c4c"/><polygon points="458.93,216.82 455.02,219.71 462.79,230.38 466.71,227.48" fill="#00ffff"/><polygon points="458.93,216.82 455.02,219.71 456.57,221.84 460.49,218.95" fill="#00b2b2"/><polygon points="465.16,225.35 461.23,228.24 462.79,230.38 466.71,227.48" fill="#4cffff"/><polygon points="444.17,205.21 431.46,214.55 431.3,222.9 439.27,225.31 452,215.96" fill="#ff0000"/><polygon points="444.17,205.21 431.46,214.55 431.4,217.89 445.74,207.36" fill="#b20000"/><polygon points="452,215.96 439.27,225.31 436.08,224.35 450.44,213.81" fill="#ff4c4c"/><polygon points="454.83,219.84 449.23,223.96 443.63,228.07 438.02,232.17 445.76,242.87 451.38,238.75 456.99,234.64 462.6,230.51" fill="#00ffff"/><polygon points="454.83,219.84 449.23,223.96 443.63,228.07 438.02,232.17 439.57,234.31 445.18,230.21 450.78,226.1 456.38,221.98" fill="#00b2b2"/><polygon points="461.05,228.38 455.44,232.5 449.83,236.62 444.21,240.73 445.76,242.87 451.38,238.75 456.99,234.64 462.6,230.51" fill="#4cffff"/><polygon points="427.22,217.65 424,220 423.83,228.35 431.79,230.78 435.02,228.42" fill="#ff0000"/><polygon points="427.22,217.65 424,220 423.93,223.34 428.78,219.8" fill="#b20000"/><polygon points="435.02,228.42 431.79,230.78 428.61,229.81 433.46,226.27" fill="#ff4c4c"/><polygon points="437.83,232.31 430.53,237.64 438.26,248.34 445.57,243" fill="#00ffff"/><polygon points="437.83,232.31 430.53,237.64 432.08,239.78 439.38,234.45" fill="#00b2b2"/><polygon points="444.02,240.86 436.72,246.2 438.26,248.34 445.57,243" fill="#4cffff"/><polygon points="412.18,228.6 412.18,228.6 412.23,236.78 419.95,239.4 419.95,239.4" fill="#ff0000"/><polygon points="412.18,228.6 412.18,228.6 412.2,231.88 413.74,230.76" fill="#b20000"/><polygon points="419.95,239.4 419.95,239.4 416.86,238.35 418.4,237.24" fill="#ff4c4c"/><polygon points="395.8,240.46 395.8,240.46 396.02,248.5 403.54,251.27 403.54,251.27" fill="#ff0000"/><polygon points="395.8,240.46 395.8,240.46 395.89,243.67 397.35,242.62" fill="#b20000"/><polygon points="403.54,251.27 403.54,251.27 400.53,250.16 402,249.11" fill="#ff4c4c"/><polygon points="406.34,255.17 402.67,257.82 410.35,268.55 414.02,265.91" fill="#ff8c00"/><polygon points="406.34,255.17 402.67,257.82 404.21,259.96 407.88,257.32" fill="#b26200"/><polygon points="412.49,263.76 408.82,266.41 410.35,268.55 414.02,265.91" fill="#ffae4c"/><polygon points="391.87,243.29 391.87,243.29 391.98,251.41 399.6,254.11 399.6,254.11" fill="#ff0000"/><polygon points="391.87,243.29 391.87,243.29 391.91,246.54 393.41,245.46" fill="#b20000"/><polygon points="399.6,254.11 399.6,254.11 396.55,253.03 398.05,251.95" fill="#ff4c4c"/><polygon points="402.39,258.02 398.63,260.72 406.3,271.47 410.07,268.76" fill="#4682b4"/><polygon points="402.39,258.02 398.63,260.72 400.17,262.87 403.93,260.17" fill="#315b7e"/><polygon points="408.53,266.61 404.77,269.32 406.3,271.47 410.07,268.76" fill="#7ea8ca"/><polygon points="387.36,246.53 387.13,246.7 386.91,255.05 394.86,257.53 395.09,257.36" fill="#ff0000"/><polygon points="387.36,246.53 387.13,246.7 387.04,250.04 388.91,248.7" fill="#b20000"/><polygon points="395.09,257.36 394.86,257.53 391.68,256.54 393.55,255.19" fill="#ff4c4c"/><polygon points="397.88,261.27 393.55,264.37 401.21,275.12 405.55,272.01" fill="#32cd32"/><polygon points="397.88,261.27 393.55,264.37 395.08,266.52 399.41,263.41" fill="#239023"/><polygon points="404.01,269.86 399.68,272.97 401.21,275.12 405.55,272.01" fill="#70dc70"/><polygon points="382.77,249.84 376.99,253.97 376.75,262.32 384.7,264.81 390.48,260.67" fill="#ff0000"/><polygon points="382.77,249.84 376.99,253.97 376.9,257.31 384.31,252" fill="#b20000"/><polygon points="390.48,260.67 384.7,264.81 381.52,263.82 388.94,258.5" fill="#ff4c4c"/><polygon points="393.27,264.58 388.33,268.12 383.38,271.66 391.02,282.42 395.98,278.87 400.93,275.33" fill="#483d8b"/><polygon points="393.27,264.58 388.33,268.12 383.38,271.66 384.91,273.81 389.86,270.27 394.8,266.73" fill="#322b61"/><polygon points="399.4,273.18 394.45,276.72 389.49,280.27 391.02,282.42 395.98,278.87 400.93,275.33" fill="#7f77ae"/><polygon points="366.32,261.59 355.82,269.06 355.55,277.4 363.49,279.92 374.01,272.45" fill="#ff0000"/><polygon points="366.32,261.59 355.82,269.06 355.71,272.39 367.86,263.76" fill="#b20000"/><polygon points="374.01,272.45 363.49,279.92 360.31,278.92 372.47,270.28" fill="#ff4c4c"/><polygon points="351.06,272.43 347.24,275.13 346.96,283.47 354.89,286.01 358.72,283.3" fill="#ff0000"/><polygon points="351.06,272.43 347.24,275.13 347.13,278.47 352.59,274.61" fill="#b20000"/><polygon points="358.72,283.3 354.89,286.01 351.72,285 357.19,281.13" fill="#ff4c4c"/><polygon points="361.48,287.23 353.54,292.84 361.12,303.65 369.08,298.02" fill="#000080"/><polygon points="361.48,287.23 353.54,292.84 355.05,295 363,289.39" fill="#00005a"/><polygon points="367.56,295.86 359.61,301.49 361.12,303.65 369.08,298.02" fill="#4c4ca6"/><polygon points="342.57,278.43 335.81,283.19 335.51,291.53 343.44,294.08 350.21,289.32" fill="#ff0000"/><polygon points="342.57,278.43 335.81,283.19 335.69,286.53 344.1,280.61" fill="#b20000"/><polygon points="350.21,289.32 343.44,294.08 340.27,293.06 348.68,287.14" fill="#ff4c4c"/><polygon points="352.97,293.24 347.52,297.08 342.08,300.91 349.64,311.73 355.1,307.89 360.55,304.05" fill="#c0c0c0"/><polygon points="352.97,293.24 347.52,297.08 342.08,300.91 343.59,303.07 349.04,299.24 354.49,295.41" fill="#868686"/><polygon points="359.04,301.89 353.58,305.73 348.13,309.56 349.64,311.73 355.1,307.89 360.55,304.05" fill="#d3d3d3"/><polygon points="322.9,292.25 317.27,296.18 316.94,304.52 324.86,307.1 330.51,303.16" fill="#ff0000"/><polygon points="322.9,292.25 317.27,296.18 317.14,299.52 324.42,294.43" fill="#b20000"/><polygon points="330.51,303.16 324.86,307.1 321.69,306.07 328.99,300.97" fill="#ff4c4c"/><polygon points="333.25,307.09 328.37,310.51 323.47,313.92 331,324.76 335.91,321.35 340.8,317.92" fill="#00ffff"/><polygon points="333.25,307.09 328.37,310.51 323.47,313.92 324.98,316.09 329.87,312.68 334.76,309.26" fill="#00b2b2"/><polygon points="339.29,315.76 334.4,319.18 329.5,322.6 331,324.76 335.91,321.35 340.8,317.92" fill="#4cffff"/><polygon points="311.53,300.18 304.66,304.96 304.31,313.3 312.23,315.9 319.12,311.11" fill="#ff0000"/><polygon points="311.53,300.18 304.66,304.96 304.52,308.3 313.05,302.37" fill="#b20000"/><polygon points="319.12,311.11 312.23,315.9 309.06,314.86 317.6,308.92" fill="#ff4c4c"/><polygon points="321.86,315.05 316.34,318.89 310.82,322.72 318.33,333.57 323.86,329.73 329.39,325.89" fill="#c0c0c0"/><polygon points="321.86,315.05 316.34,318.89 310.82,322.72 312.32,324.89 317.85,321.06 323.36,317.22" fill="#868686"/><polygon points="327.88,323.72 322.36,327.56 316.83,331.4 318.33,333.57 323.86,329.73 329.39,325.89" fill="#d3d3d3"/><polygon points="298.25,309.41 291.55,314.04 291.18,322.37 299.1,324.99 305.81,320.35" fill="#ff0000"/><polygon points="298.25,309.41 291.55,314.04 291.4,317.37 299.76,311.6" fill="#b20000"/><polygon points="305.81,320.35 299.1,324.99 295.93,323.94 304.3,318.16" fill="#ff4c4c"/><polygon points="308.54,324.3 303.11,328.05 297.67,331.8 305.16,342.68 310.6,338.92 316.04,335.16" fill="#00ffff"/><polygon points="308.54,324.3 303.11,328.05 297.67,331.8 299.17,333.98 304.61,330.23 310.04,326.47" fill="#00b2b2"/><polygon points="314.54,332.99 309.1,336.75 303.66,340.5 305.16,342.68 310.6,338.92 316.04,335.16" fill="#4cffff"/><polygon points="287.22,317.03 283.08,319.88 282.7,328.21 290.61,330.84 294.76,327.98" fill="#ff0000"/><polygon points="287.22,317.03 283.08,319.88 282.93,323.21 288.73,319.22" fill="#b20000"/><polygon points="294.76,327.98 290.61,330.84 287.45,329.79 293.25,325.79" fill="#ff4c4c"/><polygon points="297.48,331.94 289.18,337.65 296.65,348.53 304.97,342.81" fill="#00ffff"/><polygon points="297.48,331.94 289.18,337.65 290.68,339.82 298.98,334.11" fill="#00b2b2"/><polygon points="303.47,340.63 295.16,346.35 296.65,348.53 304.97,342.81" fill="#4cffff"/><polygon points="277.13,323.97 250.27,342.3 249.84,350.63 257.74,353.3 284.65,334.94" fill="#ff0000"/><polygon points="277.13,323.97 250.27,342.3 250.1,345.63 278.63,326.16" fill="#b20000"/><polygon points="284.65,334.94 257.74,353.3 254.58,352.23 283.15,332.74" fill="#ff4c4c"/><polygon points="287.37,338.89 282.19,342.44 277.01,345.98 271.83,349.52 266.65,353.05 261.46,356.58 256.27,360.1 263.68,371.03 268.88,367.5 274.08,363.97 279.27,360.43 284.46,356.88 289.65,353.33 294.83,349.78" fill="#00ffff"/><polygon points="287.37,338.89 282.19,342.44 277.01,345.98 271.83,349.52 266.65,353.05 261.46,356.58 256.27,360.1 257.75,362.29 262.94,358.77 268.13,355.24 273.32,351.7 278.5,348.16 283.68,344.62 288.86,341.07" fill="#00b2b2"/><polygon points="293.34,347.6 288.16,351.16 282.97,354.7 277.78,358.25 272.59,361.78 267.39,365.32 262.19,368.84 263.68,371.03 268.88,367.5 274.08,363.97 279.27,360.43 284.46,356.88 289.65,353.33 294.83,349.78" fill="#4cffff"/><polygon points="245.72,345.38 238.21,350.46 237.77,358.79 245.66,361.48 253.19,356.39" fill="#ff0000"/><polygon points="245.72,345.38 238.21,350.46 238.04,353.79 247.22,347.58" fill="#b20000"/><polygon points="253.19,356.39 245.66,361.48 242.5,360.4 251.7,354.19" fill="#ff4c4c"/><polygon points="255.88,360.36 250.03,364.32 244.17,368.28 251.56,379.21 257.43,375.25 263.29,371.29" fill="#00ffff"/><polygon points="255.88,360.36 250.03,364.32 244.17,368.28 245.65,370.46 251.51,366.51 257.36,362.55" fill="#00b2b2"/><polygon points="261.81,369.1 255.95,373.07 250.08,377.03 251.56,379.21 257.43,375.25 263.29,371.29" fill="#4cffff"/><polygon points="233.76,353.47 224.79,359.5 224.33,367.82 232.22,370.53 241.2,364.49" fill="#ff0000"/><polygon points="233.76,353.47 224.79,359.5 224.61,362.83 235.25,355.67" fill="#b20000"/><polygon points="241.2,364.49 232.22,370.53 229.06,369.45 239.71,362.29" fill="#ff4c4c"/><polygon points="243.89,368.47 237.3,372.9 230.72,377.32 238.08,388.28 244.68,383.85 251.27,379.41" fill="#00ffff"/><polygon points="243.89,368.47 237.3,372.9 230.72,377.32 232.19,379.51 238.78,375.09 245.36,370.66" fill="#00b2b2"/><polygon points="249.8,377.22 243.2,381.66 236.61,386.09 238.08,388.28 244.68,383.85 251.27,379.41" fill="#4cffff"/><polygon points="194.67,379.6 177.56,390.91 177.02,399.22 184.89,402 202.04,390.68" fill="#ff0000"/><polygon points="194.67,379.6 177.56,390.91 177.34,394.23 196.14,381.82" fill="#b20000"/><polygon points="202.04,390.68 184.89,402 181.75,400.89 200.56,388.46" fill="#ff4c4c"/><polygon points="204.7,394.67 199.36,398.2 194.02,401.73 188.68,405.26 183.33,408.77 190.61,419.79 195.97,416.26 201.32,412.73 206.67,409.2 212.01,405.66" fill="#ff1493"/><polygon points="204.7,394.67 199.36,398.2 194.02,401.73 188.68,405.26 183.33,408.77 184.79,410.98 190.14,407.46 195.48,403.93 200.82,400.4 206.16,396.87" fill="#b20e67"/><polygon points="210.55,403.46 205.21,407 199.86,410.53 194.51,414.06 189.15,417.58 190.61,419.79 195.97,416.26 201.32,412.73 206.67,409.2 212.01,405.66" fill="#ff5ab3"/><polygon points="172.97,393.93 168.29,397 167.74,405.31 175.61,408.1 180.3,405.02" fill="#ff0000"/><polygon points="172.97,393.93 168.29,397 168.07,400.32 174.44,396.14" fill="#b20000"/><polygon points="180.3,405.02 175.61,408.1 172.46,406.99 178.83,402.8" fill="#ff4c4c"/><polygon points="161.67,401.34 161.52,401.43 160.96,409.74 168.83,412.54 168.98,412.45" fill="#ff0000"/><polygon points="161.67,401.34 161.52,401.43 161.3,404.75 163.13,403.56" fill="#b20000"/><polygon points="168.98,412.45 168.83,412.54 165.68,411.42 167.51,410.23" fill="#ff4c4c"/><polygon points="171.61,416.46 167.25,419.31 174.5,430.34 178.87,427.49" fill="#00ffff"/><polygon points="171.61,416.46 167.25,419.31 168.7,421.52 173.06,418.66" fill="#00b2b2"/><polygon points="177.42,425.28 173.05,428.14 174.5,430.34 178.87,427.49" fill="#4cffff"/><polygon points="156.15,404.94 145.55,411.84 144.97,420.14 152.83,422.97 163.45,416.06" fill="#ff0000"/><polygon points="156.15,404.94 145.55,411.84 145.32,415.16 157.61,407.16" fill="#b20000"/><polygon points="163.45,416.06 152.83,422.97 149.69,421.84 161.99,413.83" fill="#ff4c4c"/><polygon points="166.09,420.07 161.14,423.29 156.19,426.52 151.23,429.73 158.45,440.78 163.41,437.56 168.37,434.33 173.33,431.1" fill="#00ffff"/><polygon points="166.09,420.07 161.14,423.29 156.19,426.52 151.23,429.73 152.67,431.94 157.63,428.72 162.58,425.5 167.53,422.28" fill="#00b2b2"/><polygon points="171.88,428.9 166.93,432.13 161.97,435.35 157,438.57 158.45,440.78 163.41,437.56 168.37,434.33 173.33,431.1" fill="#4cffff"/><polygon points="140.85,414.89 136.44,417.75 135.84,426.05 143.7,428.89 148.12,426.03" fill="#ff0000"/><polygon points="140.85,414.89 136.44,417.75 136.2,421.07 142.3,417.12" fill="#b20000"/><polygon points="148.12,426.03 143.7,428.89 140.56,427.76 146.67,423.8" fill="#ff4c4c"/><polygon points="150.74,430.05 142.09,435.65 149.29,446.71 157.96,441.1" fill="#00ffff"/><polygon points="150.74,430.05 142.09,435.65 143.53,437.86 152.19,432.26" fill="#00b2b2"/><polygon points="156.52,438.89 147.85,444.5 149.29,446.71 157.96,441.1" fill="#4cffff"/><polygon points="131.73,420.79 122.26,426.89 121.65,435.19 129.5,438.05 138.99,431.94" fill="#ff0000"/><polygon points="131.73,420.79 122.26,426.89 122.02,430.21 133.18,423.02" fill="#b20000"/><polygon points="138.99,431.94 129.5,438.05 126.36,436.91 137.53,429.71" fill="#ff4c4c"/><polygon points="141.6,435.96 134.74,440.39 127.87,444.8 135.05,455.88 141.93,451.46 148.8,447.02" fill="#00ffff"/><polygon points="141.6,435.96 134.74,440.39 127.87,444.8 129.31,447.02 136.18,442.6 143.04,438.17" fill="#00b2b2"/><polygon points="147.36,444.81 140.49,449.24 133.61,453.67 135.05,455.88 141.93,451.46 148.8,447.02" fill="#4cffff"/><polygon points="117.84,429.74 117.84,429.74 117.76,437.69 125.07,440.9 125.07,440.9" fill="#ff0000"/><polygon points="117.84,429.74 117.84,429.74 117.81,432.92 119.29,431.97" fill="#b20000"/><polygon points="125.07,440.9 125.07,440.9 122.14,439.62 123.62,438.67" fill="#ff4c4c"/><polygon points="127.68,444.93 123.97,447.31 131.14,458.39 134.85,456.01" fill="#00ffff"/><polygon points="127.68,444.93 123.97,447.31 125.41,449.52 129.11,447.14" fill="#00b2b2"/><polygon points="133.42,453.79 129.71,456.17 131.14,458.39 134.85,456.01" fill="#4cffff"/><polygon points="110.74,434.29 106.51,437 105.87,445.29 113.71,448.17 117.96,445.46" fill="#ff0000"/><polygon points="110.74,434.29 106.51,437 106.25,440.31 112.18,436.52" fill="#b20000"/><polygon points="117.96,445.46 113.71,448.17 110.58,447.02 116.51,443.23" fill="#ff4c4c"/><polygon points="91.84,446.34 86.23,449.9 85.57,458.19 93.4,461.1 99.02,457.53" fill="#ff0000"/><polygon points="91.84,446.34 86.23,449.9 85.97,453.21 93.28,448.58" fill="#b20000"/><polygon points="99.02,457.53 93.4,461.1 90.27,459.93 97.59,455.29" fill="#ff4c4c"/><polygon points="601.87,50.83 621.37,35.32 629.38,37.43 629.56,45.8 610.03,61.33" fill="#0000ff"/><polygon points="601.87,50.83 621.37,35.32 624.57,36.17 603.5,52.93" fill="#0000b2"/><polygon points="610.03,61.33 629.56,45.8 629.49,42.45 608.4,59.23" fill="#4c4cff"/><polygon points="614.12,17.95 609.46,21.67 604.79,25.39 600.12,29.11 595.45,32.82 590.77,36.53 598.87,46.96 603.55,43.24 608.24,39.52 612.91,35.8 617.59,32.07 622.26,28.34" fill="#adff2f"/><polygon points="614.12,17.95 609.46,21.67 604.79,25.39 600.12,29.11 595.45,32.82 590.77,36.53 592.39,38.62 597.07,34.91 601.75,31.19 606.42,27.47 611.09,23.75 615.75,20.02" fill="#79b221"/><polygon points="620.63,26.26 615.96,29.99 611.29,33.72 606.61,37.44 601.93,41.16 597.25,44.87 598.87,46.96 603.55,43.24 608.24,39.52 612.91,35.8 617.59,32.07 622.26,28.34" fill="#c6ff6d"/><polygon points="590.31,59.96 597.68,54.15 605.68,56.3 605.82,64.66 598.45,70.48" fill="#0000ff"/><polygon points="590.31,59.96 597.68,54.15 600.88,55.01 591.94,62.06" fill="#0000b2"/><polygon points="598.45,70.48 605.82,64.66 605.77,61.31 596.82,68.38" fill="#4c4cff"/><polygon points="590.5,36.74 584.88,41.19 579.24,45.64 587.32,56.08 592.96,51.63 598.6,47.17" fill="#f08080"/><polygon points="590.5,36.74 584.88,41.19 579.24,45.64 580.86,47.73 586.49,43.28 592.12,38.83" fill="#a85a5a"/><polygon points="596.98,45.09 591.34,49.54 585.7,53.99 587.32,56.08 592.96,51.63 598.6,47.17" fill="#f4a6a6"/><polygon points="582.44,66.15 586.02,63.34 594.02,65.51 594.14,73.87 590.56,76.68" fill="#0000ff"/><polygon points="582.44,66.15 586.02,63.34 589.22,64.21 584.07,68.26" fill="#0000b2"/><polygon points="590.56,76.68 594.14,73.87 594.1,70.52 588.94,74.58" fill="#4c4cff"/><polygon points="578.88,45.92 571.4,51.81 579.45,62.27 586.96,56.37" fill="#4682b4"/><polygon points="578.88,45.92 571.4,51.81 573.01,53.91 580.5,48.01" fill="#315b7e"/><polygon points="585.34,54.28 577.84,60.18 579.45,62.27 586.96,56.37" fill="#7ea8ca"/><polygon points="437.63,176.49 439.06,175.43 447.02,177.82 446.91,186.17 445.48,187.23" fill="#0000ff"/><polygon points="437.63,176.49 439.06,175.43 442.24,176.39 439.2,178.64" fill="#0000b2"/><polygon points="445.48,187.23 446.91,186.17 446.96,182.83 443.91,185.08" fill="#4c4cff"/><polygon points="432.39,157.85 426.95,161.88 434.74,172.54 440.19,168.5" fill="#000080"/><polygon points="432.39,157.85 426.95,161.88 428.5,164.01 433.95,159.98" fill="#00005a"/><polygon points="438.63,166.37 433.18,170.41 434.74,172.54 440.19,168.5" fill="#4c4ca6"/><polygon points="396.68,206.49 397.1,206.19 405.04,208.63 404.88,216.98 404.46,217.28" fill="#0000ff"/><polygon points="396.68,206.49 397.1,206.19 400.28,207.17 398.24,208.65" fill="#0000b2"/><polygon points="404.46,217.28 404.88,216.98 404.94,213.64 402.9,215.12" fill="#4c4cff"/><polygon points="387.74,212.98 387.74,212.98 395.44,215.61 395.49,223.78 395.49,223.78" fill="#0000ff"/><polygon points="387.74,212.98 387.74,212.98 390.82,214.03 389.29,215.14" fill="#0000b2"/><polygon points="395.49,223.78 395.49,223.78 395.47,220.51 393.94,221.62" fill="#4c4cff"/><polygon points="384.57,215.27 384.57,215.27 392.17,217.97 392.32,226.08 392.32,226.08" fill="#0000ff"/><polygon points="384.57,215.27 384.57,215.27 387.61,216.35 386.12,217.43" fill="#0000b2"/><polygon points="392.32,226.08 392.32,226.08 392.26,222.84 390.77,223.92" fill="#4c4cff"/><polygon points="352.87,238.02 353.01,237.92 360.93,240.44 360.7,248.77 360.56,248.87" fill="#0000ff"/><polygon points="352.87,238.02 353.01,237.92 356.18,238.93 354.41,240.19" fill="#0000b2"/><polygon points="360.56,248.87 360.7,248.77 360.79,245.44 359.02,246.7" fill="#4c4cff"/><polygon points="310.29,268.12 312.03,266.9 319.94,269.47 319.65,277.8 317.9,279.03" fill="#0000ff"/><polygon points="310.29,268.12 312.03,266.9 315.2,267.93 311.81,270.3" fill="#0000b2"/><polygon points="317.9,279.03 319.65,277.8 319.77,274.47 316.38,276.84" fill="#4c4cff"/><polygon points="196.09,346.23 200.73,343.12 208.6,345.86 208.14,354.17 203.49,357.28" fill="#0000ff"/><polygon points="196.09,346.23 200.73,343.12 203.88,344.22 197.57,348.44" fill="#0000b2"/><polygon points="203.49,357.28 208.14,354.17 208.33,350.84 202.01,355.07" fill="#4c4cff"/><polygon points="194.8,325.31 186.02,331.19 193.36,342.15 202.16,336.27" fill="#ff1493"/><polygon points="194.8,325.31 186.02,331.19 187.49,333.38 196.27,327.5" fill="#b20e67"/><polygon points="200.69,334.08 191.9,339.96 193.36,342.15 202.16,336.27" fill="#ff5ab3"/><polygon points="189.1,350.89 191.45,349.32 199.31,352.07 198.84,360.38 196.49,361.95" fill="#0000ff"/><polygon points="189.1,350.89 191.45,349.32 194.59,350.42 190.58,353.1" fill="#0000b2"/><polygon points="196.49,361.95 198.84,360.38 199.03,357.06 195.01,359.73" fill="#4c4cff"/><polygon points="185.54,331.5 179.05,335.84 186.38,346.81 192.89,342.47" fill="#696969"/><polygon points="185.54,331.5 179.05,335.84 180.51,338.03 187.01,333.7" fill="#4a4a4a"/><polygon points="191.42,340.28 184.91,344.62 186.38,346.81 192.89,342.47" fill="#969696"/><polygon points="182.1,355.54 183.97,354.3 191.83,357.05 191.35,365.36 189.48,366.61" fill="#0000ff"/><polygon points="182.1,355.54 183.97,354.3 187.12,355.4 183.58,357.75" fill="#0000b2"/><polygon points="189.48,366.61 191.35,365.36 191.54,362.04 188,364.39" fill="#4c4cff"/><polygon points="178.09,336.47 172.07,340.48 179.39,351.46 185.42,347.45" fill="#00ced1"/><polygon points="178.09,336.47 172.07,340.48 173.53,342.67 179.56,338.67" fill="#009092"/><polygon points="183.95,345.25 177.92,349.26 179.39,351.46 185.42,347.45" fill="#4cdddf"/><polygon points="79.21,422.38 84.11,419.26 91.93,422.16 91.31,430.44 86.39,433.57" fill="#0000ff"/><polygon points="79.21,422.38 84.11,419.26 87.24,420.42 80.65,424.61" fill="#0000b2"/><polygon points="86.39,433.57 91.31,430.44 91.56,427.13 84.96,431.33" fill="#4c4cff"/><polygon points="78.53,401.35 69.43,407.14 76.56,418.25 85.68,412.44" fill="#f0e68c"/><polygon points="78.53,401.35 69.43,407.14 70.86,409.37 79.96,403.57" fill="#a8a162"/><polygon points="84.25,410.23 75.14,416.03 76.56,418.25 85.68,412.44" fill="#f4eeae"/><polygon points="60.34,434.32 60.78,434.04 68.59,436.98 67.93,445.26 67.49,445.53" fill="#0000ff"/><polygon points="60.34,434.32 60.78,434.04 63.9,435.22 61.77,436.56" fill="#0000b2"/><polygon points="67.49,445.53 67.93,445.26 68.2,441.94 66.06,443.29" fill="#4c4cff"/><polygon points="55.27,416.12 50.61,419.06 54.16,424.62 58.82,421.68" fill="#ff1493"/><polygon points="55.27,416.12 50.61,419.06 51.32,420.17 55.98,417.23" fill="#b20e67"/><polygon points="58.11,420.57 53.45,423.51 54.16,424.62 58.82,421.68" fill="#ff5ab3"/><polygon points="58.82,421.68 54.16,424.62 57.71,430.19 62.38,427.24" fill="#c0c0c0"/><polygon points="58.82,421.68 54.16,424.62 54.87,425.74 59.54,422.79" fill="#868686"/><polygon points="61.67,426.13 57,429.07 57.71,430.19 62.38,427.24" fill="#d3d3d3"/><polygon points="47.29,442.53 55.81,437.17 63.62,440.11 62.95,448.39 54.41,453.76" fill="#0000ff"/><polygon points="47.29,442.53 55.81,437.17 58.94,438.35 48.71,444.78" fill="#0000b2"/><polygon points="54.41,453.76 62.95,448.39 63.22,445.08 52.99,451.51" fill="#4c4cff"/><polygon points="50.32,419.24 43.96,423.25 37.59,427.25 44.66,438.39 51.04,434.39 57.42,430.37" fill="#696969"/><polygon points="50.32,419.24 43.96,423.25 37.59,427.25 39,429.47 45.37,425.47 51.74,421.47" fill="#4a4a4a"/><polygon points="56,428.15 49.62,432.16 43.25,436.16 44.66,438.39 51.04,434.39 57.42,430.37" fill="#969696"/><polygon points="34.11,450.77 42.26,445.68 50.07,448.63 49.38,456.91 41.21,462.01" fill="#0000ff"/><polygon points="34.11,450.77 42.26,445.68 45.38,446.86 35.53,453.02" fill="#0000b2"/><polygon points="41.21,462.01 49.38,456.91 49.65,453.6 39.79,459.76" fill="#4c4cff"/><polygon points="36.81,427.73 30.63,431.6 24.45,435.46 31.5,446.62 37.69,442.76 43.88,438.88" fill="#6b8e23"/><polygon points="36.81,427.73 30.63,431.6 24.45,435.46 25.86,437.69 32.04,433.83 38.22,429.96" fill="#4b6318"/><polygon points="42.47,436.65 36.28,440.52 30.09,444.39 31.5,446.62 37.69,442.76 43.88,438.88" fill="#97b065"/><polygon points="20.82,459.03 29.08,453.9 36.88,456.88 36.17,465.15 27.89,470.29" fill="#0000ff"/><polygon points="20.82,459.03 29.08,453.9 32.2,455.09 22.23,461.28" fill="#0000b2"/><polygon points="27.89,470.29 36.17,465.15 36.46,461.84 26.48,468.04" fill="#4c4cff"/><polygon points="23.67,435.95 17.43,439.83 11.19,443.71 18.21,454.88 24.47,451 30.71,447.11" fill="#f0e68c"/><polygon points="23.67,435.95 17.43,439.83 11.19,443.71 12.59,445.94 18.84,442.07 25.08,438.18" fill="#a8a162"/><polygon points="29.31,444.88 23.06,448.77 16.81,452.65 18.21,454.88 24.47,451 30.71,447.11" fill="#f4eeae"/><polygon points="5.25,468.65 16.37,461.79 24.16,464.78 23.43,473.06 12.3,479.93" fill="#0000ff"/><polygon points="5.25,468.65 16.37,461.79 19.48,462.99 6.66,470.91" fill="#0000b2"/><polygon points="12.3,479.93 23.43,473.06 23.73,469.75 10.89,477.68" fill="#4c4cff"/><polygon points="10.99,443.83 5.89,446.99 0.77,450.15 -4.34,453.3 2.66,464.5 7.78,461.34 12.9,458.17 18.02,455" fill="#00ced1"/><polygon points="10.99,443.83 5.89,446.99 0.77,450.15 -4.34,453.3 -2.94,455.54 2.18,452.39 7.29,449.23 12.4,446.06" fill="#009092"/><polygon points="16.61,452.77 11.5,455.94 6.38,459.1 1.26,462.26 2.66,464.5 7.78,461.34 12.9,458.17 18.02,455" fill="#4cdddf"/><polygon points="0.06,471.85 0.06,471.85 7.6,475.02 7.09,483.13 7.09,483.13" fill="#0000ff"/><polygon points="0.06,471.85 0.06,471.85 3.07,473.12 1.46,474.11" fill="#0000b2"/><polygon points="7.09,483.13 7.09,483.13 7.3,479.89 5.69,480.88" fill="#4c4cff"/><polygon points="-5.51,454.03 -9.52,456.49 -2.54,467.69 1.48,465.22" fill="#808080"/><polygon points="-5.51,454.03 -9.52,456.49 -8.12,458.73 -4.11,456.26" fill="#5a5a5a"/><polygon points="0.08,462.98 -3.93,465.45 -2.54,467.69 1.48,465.22" fill="#a6a6a6"/><polygon points="-15.16,481.17 -4.7,474.77 3.08,477.79 2.33,486.06 -8.15,492.47" fill="#0000ff"/><polygon points="-15.16,481.17 -4.7,474.77 -1.59,475.98 -13.75,483.43" fill="#0000b2"/><polygon points="-8.15,492.47 2.33,486.06 2.63,482.75 -9.55,490.21" fill="#4c4cff"/><polygon points="-10.01,456.79 -14.9,459.79 -19.8,462.79 -24.69,465.79 -17.74,477 -12.83,474.01 -7.93,471 -3.03,467.99" fill="#808080"/><polygon points="-10.01,456.79 -14.9,459.79 -19.8,462.79 -24.69,465.79 -23.3,468.03 -18.4,465.04 -13.51,462.04 -8.61,459.03" fill="#5a5a5a"/><polygon points="-4.42,465.75 -9.32,468.76 -14.22,471.76 -19.13,474.76 -17.74,477 -12.83,474.01 -7.93,471 -3.03,467.99" fill="#a6a6a6"/><polygon points="380.34,195.98 377.83,197.8 385.53,208.52 388.05,206.7" fill="#696969"/><polygon points="380.34,195.98 377.83,197.8 379.37,199.95 381.88,198.13" fill="#4a4a4a"/><polygon points="386.51,204.56 383.99,206.38 385.53,208.52 388.05,206.7" fill="#969696"/></g>
<g stroke="#0000ff" stroke-width="1.05"><line x1="393" y1="110.5" x2="420.5" y2="147.24"/><line x1="369.5" y1="128" x2="379.21" y2="177.53"/><line x1="346.25" y1="145.5" x2="370.03" y2="184.19"/><line x1="325.8" y1="160.3" x2="366.78" y2="186.54"/><line x1="303" y1="176.25" x2="335.52" y2="209"/><line x1="268" y1="201.25" x2="293.91" y2="238.45"/><line x1="176.75" y1="263.5" x2="181.72" y2="315.3"/><line x1="154.5" y1="278.75" x2="173.62" y2="320.7"/><line x1="132" y1="293" x2="166.47" y2="325.46"/><line x1="109.7" y1="308.5" x2="65.55" y2="391.13"/><line x1="86.25" y1="323.75" x2="44.55" y2="404.44"/><line x1="62.5" y1="339.5" x2="35.25" y2="410.3"/></g>
<g stroke="#ff0000" stroke-width="1.05"><line x1="490.26" y1="229.97" x2="543" y2="298"/><line x1="477.83" y1="239.17" x2="537.5" y2="316.25"/><line x1="474.36" y1="241.72" x2="545" y2="336.25"/><line x1="463.78" y1="249.5" x2="540" y2="352.5"/><line x1="451.67" y1="258.36" x2="533.75" y2="370"/><line x1="438.04" y1="268.28" x2="490" y2="340"/><line x1="421.54" y1="280.21" x2="479.5" y2="360"/><line x1="417.49" y1="283.13" x2="493" y2="387.5"/><line x1="412.67" y1="286.59" x2="476.25" y2="374.5"/><line x1="405.01" y1="292.08" x2="434.5" y2="332"/><line x1="386.46" y1="305.32" x2="455" y2="402.5"/><line x1="374.02" y1="314.12" x2="449.5" y2="419"/><line x1="363.76" y1="321.36" x2="392.5" y2="360.5"/><line x1="345.38" y1="334.24" x2="396.25" y2="407"/><line x1="333.17" y1="342.75" x2="389.5" y2="423"/><line x1="319.97" y1="351.89" x2="382.5" y2="440"/><line x1="310.02" y1="358.76" x2="334.5" y2="400"/><line x1="288.05" y1="373.81" x2="313" y2="415"/><line x1="266.2" y1="388.64" x2="293" y2="428"/><line x1="253.57" y1="397.15" x2="271.25" y2="443"/><line x1="209.92" y1="426.23" x2="248.75" y2="458.75"/><line x1="194.57" y1="436.33" x2="246.25" y2="508.75"/><line x1="184.74" y1="442.76" x2="238.75" y2="525"/><line x1="174.51" y1="449.43" x2="201.25" y2="490"/><line x1="162.22" y1="457.4" x2="176.25" y2="505.5"/><line x1="150.88" y1="464.72" x2="152.5" y2="521"/><line x1="141.4" y1="470.82" x2="124.5" y2="538"/><line x1="132.58" y1="476.47" x2="99.5" y2="554.5"/></g>
<g fill="#fff" fill-opacity="0.78"><rect x="519.09" y="39.34" width="39.6" height="9.2"/><rect x="473.99" y="74.14" width="39.6" height="9.2"/><rect x="428.57" y="108.52" width="39.6" height="9.2"/><rect x="382.82" y="142.48" width="39.6" height="9.2"/><rect x="336.75" y="176.01" width="39.6" height="9.2"/><rect x="290.38" y="209.11" width="39.6" height="9.2"/><rect x="243.67" y="241.94" width="39.6" height="9.2"/><rect x="196.66" y="274.93" width="39.6" height="9.2"/><rect x="149.35" y="306.68" width="39.6" height="9.2"/><rect x="101.74" y="337.79" width="39.6" height="9.2"/><rect x="53.85" y="368.85" width="39.6" height="9.2"/><rect x="5.67" y="399.46" width="39.6" height="9.2"/></g><g style="will-change:transform" font-family="'DejaVu Sans','Liberation Sans',sans-serif" font-size="8" fill="#222"><text x="538.89" y="46.24" text-anchor="middle" textLength="38.5" lengthAdjust="spacingAndGlyphs">1550 kbp</text><text x="493.79" y="81.04" text-anchor="middle" textLength="38.5" lengthAdjust="spacingAndGlyphs">1555 kbp</text><text x="448.37" y="115.42" text-anchor="middle" textLength="38.5" lengthAdjust="spacingAndGlyphs">1560 kbp</text><text x="402.62" y="149.38" text-anchor="middle" textLength="38.5" lengthAdjust="spacingAndGlyphs">1565 kbp</text><text x="356.55" y="182.91" text-anchor="middle" textLength="38.5" lengthAdjust="spacingAndGlyphs">1570 kbp</text><text x="310.18" y="216.01" text-anchor="middle" textLength="38.5" lengthAdjust="spacingAndGlyphs">1575 kbp</text><text x="263.47" y="248.84" text-anchor="middle" textLength="38.5" lengthAdjust="spacingAndGlyphs">1580 kbp</text><text x="216.46" y="281.83" text-anchor="middle" textLength="38.5" lengthAdjust="spacingAndGlyphs">1585 kbp</text><text x="169.15" y="313.58" text-anchor="middle" textLength="38.5" lengthAdjust="spacingAndGlyphs">1590 kbp</text><text x="121.54" y="344.69" text-anchor="middle" textLength="38.5" lengthAdjust="spacingAndGlyphs">1595 kbp</text><text x="73.65" y="375.75" text-anchor="middle" textLength="38.5" lengthAdjust="spacingAndGlyphs">1600 kbp</text><text x="25.47" y="406.36" text-anchor="middle" textLength="38.5" lengthAdjust="spacingAndGlyphs">1605 kbp</text></g>
<g fill="#fff" fill-opacity="0.78"><rect x="342.75" y="99.65" width="49.2" height="11.5"/><rect x="318.5" y="116.9" width="49.2" height="11.5"/><rect x="294.6" y="134.1" width="49.2" height="11.5"/><rect x="274.5" y="148.9" width="49.2" height="11.5"/><rect x="252.75" y="164.65" width="49.2" height="11.5"/><rect x="217" y="189.65" width="49.2" height="11.5"/><rect x="125.75" y="252.65" width="49.2" height="11.5"/><rect x="103.5" y="267.65" width="49.2" height="11.5"/><rect x="81.5" y="281.65" width="49.2" height="11.5"/><rect x="58.5" y="296.4" width="49.2" height="11.5"/><rect x="34.75" y="312.65" width="49.2" height="11.5"/><rect x="11.5" y="327.65" width="49.2" height="11.5"/><rect x="543.5" y="295.9" width="49.2" height="11.5"/><rect x="537.75" y="312.65" width="49.2" height="11.5"/><rect x="546" y="331.9" width="49.2" height="11.5"/><rect x="541" y="347.65" width="23.8" height="11.5"/><rect x="533.75" y="364.4" width="49.2" height="11.5"/><rect x="490.25" y="334.4" width="49.2" height="11.5"/><rect x="479.5" y="354.4" width="49.2" height="11.5"/><rect x="493.5" y="381.4" width="49.2" height="11.5"/><rect x="476.5" y="368.4" width="49.2" height="11.5"/><rect x="434.5" y="325.9" width="49.2" height="11.5"/><rect x="455.25" y="396.4" width="49.2" height="11.5"/><rect x="449.5" y="413.4" width="49.2" height="11.5"/><rect x="392.75" y="354.65" width="49.2" height="11.5"/><rect x="396.5" y="401.9" width="49.2" height="11.5"/><rect x="389.5" y="417.65" width="49.2" height="11.5"/><rect x="382.75" y="435.15" width="49.2" height="11.5"/><rect x="335.25" y="394.65" width="49.2" height="11.5"/><rect x="313.5" y="409.65" width="23" height="11.5"/><rect x="293.25" y="422.65" width="49.2" height="11.5"/><rect x="271.5" y="437.65" width="49.2" height="11.5"/><rect x="249.5" y="452.65" width="49.2" height="11.5"/><rect x="246.5" y="502.65" width="49.2" height="11.5"/><rect x="239.5" y="519.4" width="49.2" height="11.5"/><rect x="201.5" y="484.65" width="49.2" height="11.5"/><rect x="176.5" y="499.65" width="49.2" height="11.5"/><rect x="152.75" y="515.65" width="49.2" height="11.5"/><rect x="124.5" y="532.15" width="49.2" height="11.5"/><rect x="99.5" y="548.4" width="49.2" height="11.5"/></g>
<g style="will-change:transform" font-family="'Liberation Sans',sans-serif" font-size="11" fill="#0000ff"><text x="343.05" y="108.85" textLength="48.8" lengthAdjust="spacingAndGlyphs">Plav_1432</text><text x="318.8" y="126.1" textLength="48.8" lengthAdjust="spacingAndGlyphs">Plav_1437</text><text x="294.9" y="143.3" textLength="48.8" lengthAdjust="spacingAndGlyphs">Plav_1439</text><text x="274.8" y="158.1" textLength="48.8" lengthAdjust="spacingAndGlyphs">Plav_1440</text><text x="253.05" y="173.85" textLength="48.8" lengthAdjust="spacingAndGlyphs">Plav_1445</text><text x="217.3" y="198.85" textLength="48.8" lengthAdjust="spacingAndGlyphs">Plav_1449</text><text x="126.05" y="261.85" textLength="48.8" lengthAdjust="spacingAndGlyphs">Plav_1457</text><text x="103.8" y="276.85" textLength="48.8" lengthAdjust="spacingAndGlyphs">Plav_1458</text><text x="81.8" y="290.85" textLength="48.8" lengthAdjust="spacingAndGlyphs">Plav_1459</text><text x="58.8" y="305.6" textLength="48.8" lengthAdjust="spacingAndGlyphs">Plav_1468</text><text x="35.05" y="321.85" textLength="48.8" lengthAdjust="spacingAndGlyphs">Plav_1470</text><text x="11.8" y="336.85" textLength="48.8" lengthAdjust="spacingAndGlyphs">Plav_1471</text></g>
<g style="will-change:transform" font-family="'Liberation Sans',sans-serif" font-size="11" fill="#ff0000"><text x="544" y="305.1" textLength="48.8" lengthAdjust="spacingAndGlyphs">Plav_1431</text><text x="538.25" y="321.85" textLength="48.8" lengthAdjust="spacingAndGlyphs">Plav_1433</text><text x="546.5" y="341.1" textLength="48.8" lengthAdjust="spacingAndGlyphs">Plav_1434</text><text x="541.5" y="356.85" textLength="23.4" lengthAdjust="spacingAndGlyphs">sdhA</text><text x="534.25" y="373.6" textLength="48.8" lengthAdjust="spacingAndGlyphs">Plav_1436</text><text x="490.75" y="343.6" textLength="48.8" lengthAdjust="spacingAndGlyphs">Plav_1438</text><text x="480" y="363.6" textLength="48.8" lengthAdjust="spacingAndGlyphs">Plav_1441</text><text x="494" y="390.6" textLength="48.8" lengthAdjust="spacingAndGlyphs">Plav_1442</text><text x="477" y="377.6" textLength="48.8" lengthAdjust="spacingAndGlyphs">Plav_1443</text><text x="435" y="335.1" textLength="48.8" lengthAdjust="spacingAndGlyphs">Plav_1444</text><text x="455.75" y="405.6" textLength="48.8" lengthAdjust="spacingAndGlyphs">Plav_1446</text><text x="450" y="422.6" textLength="48.8" lengthAdjust="spacingAndGlyphs">Plav_1447</text><text x="393.25" y="363.85" textLength="48.8" lengthAdjust="spacingAndGlyphs">Plav_1448</text><text x="397" y="411.1" textLength="48.8" lengthAdjust="spacingAndGlyphs">Plav_1450</text><text x="390" y="426.85" textLength="48.8" lengthAdjust="spacingAndGlyphs">Plav_1451</text><text x="383.25" y="444.35" textLength="48.8" lengthAdjust="spacingAndGlyphs">Plav_1452</text><text x="335.75" y="403.85" textLength="48.8" lengthAdjust="spacingAndGlyphs">Plav_1453</text><text x="314" y="418.85" textLength="22.6" lengthAdjust="spacingAndGlyphs">sucA</text><text x="293.75" y="431.85" textLength="48.8" lengthAdjust="spacingAndGlyphs">Plav_1455</text><text x="272" y="446.85" textLength="48.8" lengthAdjust="spacingAndGlyphs">Plav_1456</text><text x="250" y="461.85" textLength="48.8" lengthAdjust="spacingAndGlyphs">Plav_1460</text><text x="247" y="511.85" textLength="48.8" lengthAdjust="spacingAndGlyphs">Plav_1461</text><text x="240" y="528.6" textLength="48.8" lengthAdjust="spacingAndGlyphs">Plav_1462</text><text x="202" y="493.85" textLength="48.8" lengthAdjust="spacingAndGlyphs">Plav_1463</text><text x="177" y="508.85" textLength="48.8" lengthAdjust="spacingAndGlyphs">Plav_1464</text><text x="153.25" y="524.85" textLength="48.8" lengthAdjust="spacingAndGlyphs">Plav_1465</text><text x="125" y="541.35" textLength="48.8" lengthAdjust="spacingAndGlyphs">Plav_1466</text><text x="100" y="557.6" textLength="48.8" lengthAdjust="spacingAndGlyphs">Plav_1467</text></g>
<g style="will-change:transform" font-family="'DejaVu Sans','Liberation Sans',sans-serif" fill="#1a1a1a">
<text x="300" y="22.6" font-size="12" font-style="italic" text-anchor="middle" textLength="379.5" lengthAdjust="spacingAndGlyphs">Parvibaculum lavamentivorans DS-1, complete genome</text>
<text x="8.8" y="587" font-size="12" textLength="137" lengthAdjust="spacingAndGlyphs">Accession: NC_009719</text>
<text x="261" y="587" font-size="12" textLength="329" lengthAdjust="spacingAndGlyphs">Topology: circular; Length: 3,914,745 bp; Genes: 3,686</text>
</g>
</svg>
</body></html>
